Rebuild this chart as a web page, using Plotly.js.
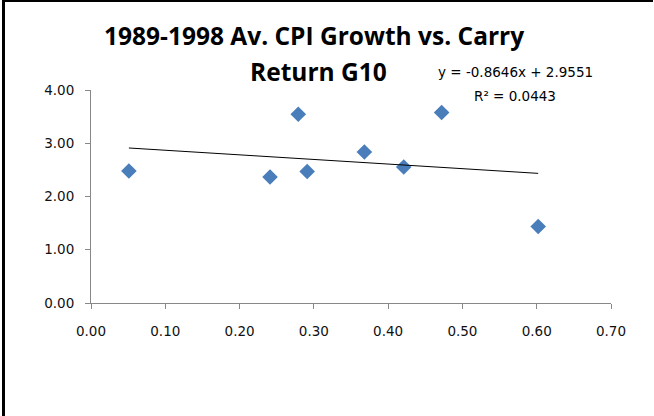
<!DOCTYPE html>
<html>
<head>
<meta charset="utf-8">
<script src="https://cdn.plot.ly/plotly-3.0.1.min.js"></script>
<style>
  html, body { margin: 0; padding: 0; background: #fff; }
  #wrap { position: relative; width: 654px; height: 416px; }
  #chart { position: absolute; left: 0; top: 0; width: 654px; height: 416px; }
  #frame { position: absolute; left: 2px; top: 0; width: 648px; height: 416px;
           border-left: 3px solid #000; border-top: 2px solid #000; pointer-events: none; }
</style>
</head>
<body>
<div id="wrap">
  <div id="chart"></div>
  <div id="frame"></div>
</div>
<script>
// Data
var cpiGrowth   = [0.051, 0.241, 0.279, 0.291, 0.368, 0.421, 0.472, 0.602];
var carryReturn = [2.48, 2.365, 3.546, 2.47, 2.836, 2.554, 3.578, 1.437];
var trendSlope = -0.8646;
var trendIntercept = 2.9551;
var xTicks = [0, 0.1, 0.2, 0.3, 0.4, 0.5, 0.6, 0.7];
var yTicks = [0, 1, 2, 3, 4];
var titleLine1 = "1989-1998 Av. CPI Growth vs. Carry";
var titleLine2 = "Return G10";
var eqText = "y = -0.8646x + 2.9551";
var r2Text = "R\u00b2 = 0.0443";

var xMin = Math.min.apply(null, cpiGrowth);
var xMax = Math.max.apply(null, cpiGrowth);
var trendX = [xMin, xMax];
var trendY = trendX.map(function (x) { return trendIntercept + trendSlope * x; });

var tickFontFam = "DejaVu Sans, sans-serif";
var titleFontFam = "Open Sans, sans-serif";

var traces = [
  {
    x: cpiGrowth, y: carryReturn, type: "scatter", mode: "markers",
    marker: { symbol: "diamond", size: 12, color: "#4a7ebb", line: { width: 0 } },
    hoverinfo: "x+y", showlegend: false
  },
  {
    x: trendX, y: trendY, type: "scatter", mode: "lines",
    line: { color: "#000", width: 1 }, hoverinfo: "skip", showlegend: false
  }
];

var axisCommon = {
  showgrid: false, zeroline: false, showline: true, linecolor: "#888888", linewidth: 1,
  ticks: "outside", ticklen: 5, tickcolor: "#888888", tickwidth: 1,
  tickfont: { family: tickFontFam, size: 13.5, color: "#111" }, tickformat: ".2f"
};

var layout = {
  width: 654, height: 416,
  margin: { l: 91, r: 43, t: 90, b: 113 },
  paper_bgcolor: "#fff", plot_bgcolor: "#fff",
  xaxis: Object.assign({}, axisCommon, { range: [0, 0.7], tickvals: xTicks, ticklabelstandoff: 11 }),
  yaxis: Object.assign({}, axisCommon, { range: [0, 4], tickvals: yTicks, ticklabelstandoff: 8 }),
  annotations: [
    { text: titleLine1, xref: "paper", yref: "paper", x: 0.428, y: 1.258, xanchor: "center", yanchor: "middle",
      showarrow: false, font: { family: titleFontFam, size: 24.5, color: "#000", weight: "bold" } },
    { text: titleLine2, xref: "paper", yref: "paper", x: 0.437, y: 1.088, xanchor: "center", yanchor: "middle",
      showarrow: false, font: { family: titleFontFam, size: 24.5, color: "#000", weight: "bold" } },
    { text: eqText, xref: "paper", yref: "paper", x: 0.816, y: 1.085, xanchor: "center", yanchor: "middle",
      showarrow: false, font: { family: tickFontFam, size: 13.5, color: "#000" } },
    { text: r2Text, xref: "paper", yref: "paper", x: 0.816, y: 0.972, xanchor: "center", yanchor: "middle",
      showarrow: false, font: { family: tickFontFam, size: 13.5, color: "#000" } }
  ]
};

Plotly.newPlot("chart", traces, layout, { displayModeBar: false, staticPlot: true });
</script>
</body>
</html>
